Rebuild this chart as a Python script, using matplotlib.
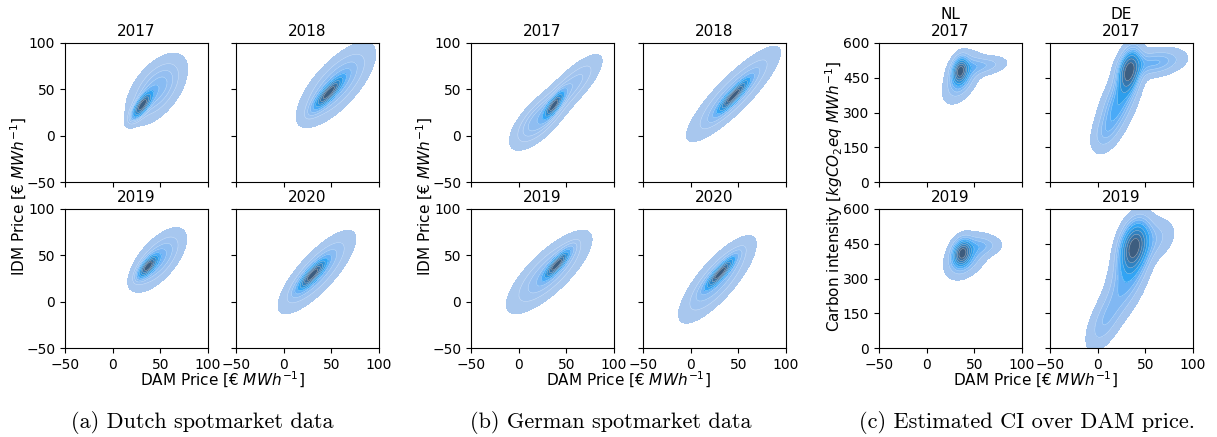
import numpy as np
import matplotlib
matplotlib.use("Agg")
import matplotlib.pyplot as plt
import matplotlib.colors as mcolors
from seaborn.external import husl

# ---------------- data ----------------
# each panel: list of gaussian components (mean_x, mean_y, sd_x, sd_y, corr, weight)
years_price = ["2017", "2018", "2019", "2020"]
years_ci = ["2017", "2019"]
countries_ci = ["NL", "DE"]

nl_2017 = [(31, 33, 6, 8, 0.75, 0.45), (46, 50, 15, 18, 0.55, 0.55)]
nl_2018 = [(47, 46, 9, 10, 0.85, 0.45), (55, 55, 19, 21, 0.72, 0.55)]
nl_2019 = [(37, 38, 6, 7, 0.7, 0.45), (47, 45, 14, 16, 0.65, 0.55)]
nl_2020 = [(30, 29, 9, 10, 0.85, 0.5), (35, 32, 19, 21, 0.8, 0.5)]

de_2017 = [(37, 33, 6, 8, 0.8, 0.4), (22, 18, 15, 16, 0.7, 0.35), (55, 53, 17, 18, 0.8, 0.25)]
de_2018 = [(45, 43, 10, 11, 0.9, 0.5), (45, 45, 23, 24, 0.87, 0.5)]
de_2019 = [(40, 40, 8, 9, 0.85, 0.5), (32, 32, 21, 21, 0.78, 0.5)]
de_2020 = [(31, 31, 9, 10, 0.88, 0.5), (28, 24, 19, 22, 0.8, 0.5)]

ci_nl_2017 = [(35, 480, 5, 35, 0.2, 0.45), (37, 450, 10, 55, 0.5, 0.37), (56, 500, 15, 24, 0.3, 0.18)]
ci_de_2017 = [(33, 480, 7, 55, 0.3, 0.4), (22, 340, 12, 90, 0.6, 0.37), (60, 515, 18, 35, 0.3, 0.18), (8, 210, 9, 50, 0.4, 0.05)]
ci_nl_2019 = [(37, 410, 6, 35, 0.2, 0.5), (42, 395, 12, 50, 0.4, 0.38), (58, 440, 12, 25, 0.1, 0.12)]
ci_de_2019 = [(38, 440, 9, 65, 0.3, 0.5), (33, 320, 13, 100, 0.55, 0.3), (8, 120, 12, 80, 0.6, 0.12), (60, 470, 13, 55, 0.3, 0.08)]

price_ticks = [-50, 0, 50, 100]
ci_ticks = [0, 150, 300, 450, 600]

# ---------------- helpers ----------------
W, H = 1217, 437
fig = plt.figure(figsize=(W / 100, H / 100), dpi=100)


def cmap_from_color(color):
    r, g, b, _ = mcolors.to_rgba(color)
    h, s, _ = husl.rgb_to_husl(r, g, b)
    xx = np.linspace(-1, 1, int(1.15 * 256))[:256]
    ramp = np.zeros((256, 3))
    ramp[:, 0] = h
    ramp[:, 1] = s * np.cos(xx)
    ramp[:, 2] = np.linspace(35, 80, 256)
    cols = np.clip([husl.husl_to_rgb(*hsl) for hsl in ramp], 0, 1)
    return mcolors.ListedColormap(cols[::-1])


CMAP = cmap_from_color("#1f77b4")


def density(comps, xg, yg):
    X, Y = np.meshgrid(xg, yg)
    Z = np.zeros_like(X)
    for mx, my, sx, sy, rho, w in comps:
        dx = (X - mx) / sx
        dy = (Y - my) / sy
        q = (dx ** 2 - 2 * rho * dx * dy + dy ** 2) / (1 - rho ** 2)
        Z += w * np.exp(-0.5 * q) / (2 * np.pi * sx * sy * np.sqrt(1 - rho ** 2))
    return X, Y, Z


def iso_levels(Z, props):
    v = np.sort(Z.ravel())[::-1]
    c = np.cumsum(v) / v.sum()
    idx = np.searchsorted(c, 1 - np.asarray(props))
    return np.take(v, idx, mode="clip")


def ax_at(x0, y0, x1, y1):
    return fig.add_axes([x0 / W, 1 - y1 / H, (x1 - x0) / W, (y1 - y0) / H])


def kde_panel(ax, comps, ylim, yticks, title, show_xlab, show_ylab):
    yspan = ylim[1] - ylim[0]
    xg = np.linspace(-110, 160, 320)
    yg = np.linspace(ylim[0] - 0.4 * yspan, ylim[1] + 0.4 * yspan, 320)
    X, Y, Z = density(comps, xg, yg)
    lv = iso_levels(Z, np.linspace(0.05, 1, 10))
    ax.contourf(X, Y, Z, levels=lv, cmap=CMAP)
    ax.contour(X, Y, Z, levels=lv[1:-1], colors="white", linewidths=0.35, alpha=0.55)
    ax.set_xlim(-50, 100)
    ax.set_ylim(*ylim)
    ax.set_xticks(price_ticks)
    ax.set_yticks(yticks)
    ax.tick_params(labelsize=10)
    if not show_xlab:
        ax.set_xticklabels([])
    if not show_ylab:
        ax.set_yticklabels([])
    ax.set_title(title, fontsize=11, pad=5)


cols_x = {
    "a": [(65, 208), (236, 379)],
    "b": [(471, 614), (643, 786)],
    "c": [(879, 1022), (1050, 1193)],
}
rows_y = [(43, 182), (209, 348)]

nl_panels = [nl_2017, nl_2018, nl_2019, nl_2020]
de_panels = [de_2017, de_2018, de_2019, de_2020]
for grp, panels in (("a", nl_panels), ("b", de_panels)):
    for i, comps in enumerate(panels):
        r, c = divmod(i, 2)
        x0, x1 = cols_x[grp][c]
        y0, y1 = rows_y[r]
        ax = ax_at(x0, y0, x1, y1)
        kde_panel(ax, comps, (-50, 100), price_ticks, years_price[i], r == 1, c == 0)

ci_panels = [[ci_nl_2017, ci_de_2017], [ci_nl_2019, ci_de_2019]]
for r in range(2):
    for c in range(2):
        x0, x1 = cols_x["c"][c]
        y0, y1 = rows_y[r]
        ax = ax_at(x0, y0, x1, y1)
        title = (countries_ci[c] + "\n" + years_ci[r]) if r == 0 else years_ci[r]
        kde_panel(ax, ci_panels[r][c], (0, 600), ci_ticks, title, r == 1, c == 0)

# axis labels
ylab_price = "IDM Price [€ $MWh^{-1}$]"
xlab_price = "DAM Price [€ $MWh^{-1}$]"
ylab_ci = "Carbon intensity [$kgCO_2eq\\ MWh^{-1}$]"
for xc, txt in ((19, ylab_price), (425, ylab_price), (834, ylab_ci)):
    fig.text(xc / W, 1 - 196 / H, txt, rotation=90, ha="center", va="center", fontsize=11)
for xc in (222, 628, 1035):
    fig.text(xc / W, 1 - 380 / H, xlab_price, ha="center", va="center", fontsize=11)

# captions
captions = ["(a) Dutch spotmarket data", "(b) German spotmarket data", "(c) Estimated CI over DAM price."]
for xc, txt in zip((202, 611, 1027), captions):
    fig.text(xc / W, 1 - 423 / H, txt, ha="center", va="center", fontsize=16, fontfamily="cmr10")

fig.savefig("out.png", dpi=100)
